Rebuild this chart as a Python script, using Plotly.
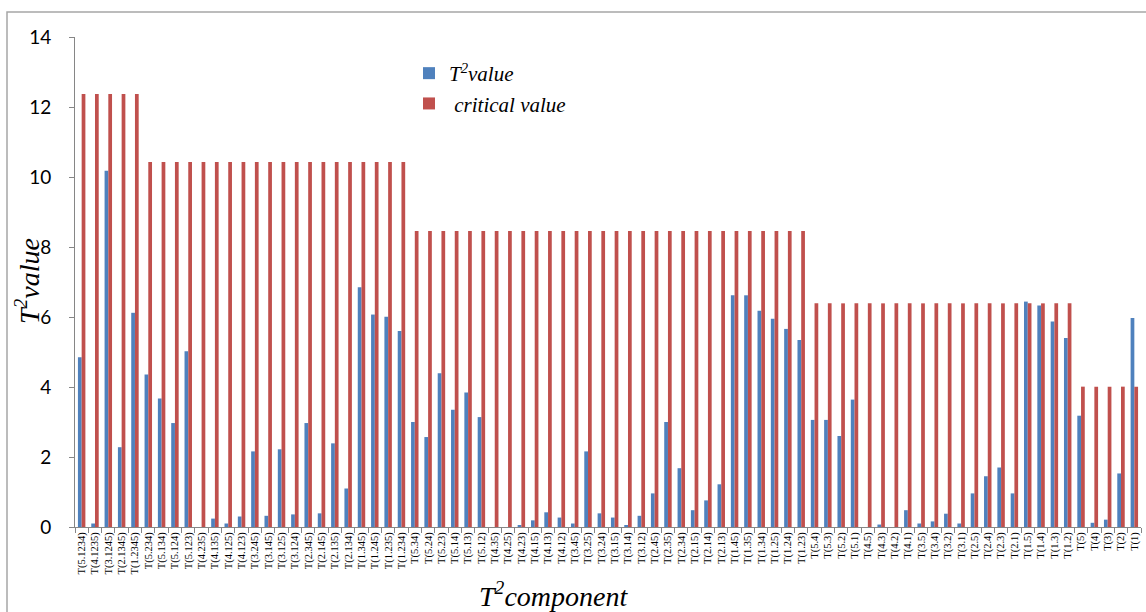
import plotly.graph_objects as go

categories = [
    "T(5.1234)", "T(4.1235)", "T(3.1245)", "T(2.1345)", "T(1.2345)",
    "T(5.234)", "T(5.134)", "T(5.124)", "T(5.123)", "T(4.235)", "T(4.135)", "T(4.125)", "T(4.123)",
    "T(3.245)", "T(3.145)", "T(3.125)", "T(3.124)", "T(2.345)", "T(2.145)", "T(2.135)", "T(2.134)",
    "T(1.345)", "T(1.245)", "T(1.235)", "T(1.234)",
    "T(5.34)", "T(5.24)", "T(5.23)", "T(5.14)", "T(5.13)", "T(5.12)",
    "T(4.35)", "T(4.25)", "T(4.23)", "T(4.15)", "T(4.13)", "T(4.12)",
    "T(3.45)", "T(3.25)", "T(3.24)", "T(3.15)", "T(3.14)", "T(3.12)",
    "T(2.45)", "T(2.35)", "T(2.34)", "T(2.15)", "T(2.14)", "T(2.13)",
    "T(1.45)", "T(1.35)", "T(1.34)", "T(1.25)", "T(1.24)", "T(1.23)",
    "T(5.4)", "T(5.3)", "T(5.2)", "T(5.1)", "T(4.5)", "T(4.3)", "T(4.2)", "T(4.1)",
    "T(3.5)", "T(3.4)", "T(3.2)", "T(3.1)", "T(2.5)", "T(2.4)", "T(2.3)", "T(2.1)",
    "T(1.5)", "T(1.4)", "T(1.3)", "T(1.2)",
    "T(5)", "T(4)", "T(3)", "T(2)", "T(1)",
]

t2_values = [
    4.85, 0.10, 10.18, 2.28, 6.12,
    4.36, 3.67, 2.97, 5.02, 0.00, 0.24, 0.10, 0.30,
    2.16, 0.32, 2.22, 0.36, 2.97, 0.39, 2.39, 1.10,
    6.85, 6.07, 6.01, 5.60,
    3.00, 2.57, 4.39, 3.35, 3.84, 3.14,
    0.00, 0.00, 0.04, 0.19, 0.42, 0.27,
    0.10, 2.16, 0.39, 0.27, 0.04, 0.32,
    0.96, 3.00, 1.68, 0.48, 0.76, 1.22,
    6.62, 6.62, 6.18, 5.95, 5.66, 5.34,
    3.06, 3.06, 2.60, 3.64, 0.00, 0.07, 0.00, 0.48,
    0.10, 0.16, 0.38, 0.10, 0.96, 1.45, 1.70, 0.96,
    6.44, 6.33, 5.87, 5.40,
    3.18, 0.12, 0.21, 1.53, 5.97,
]

critical_values = [
    12.37, 12.37, 12.37, 12.37, 12.37,
    10.43, 10.43, 10.43, 10.43, 10.43, 10.43, 10.43, 10.43,
    10.43, 10.43, 10.43, 10.43, 10.43, 10.43, 10.43, 10.43,
    10.43, 10.43, 10.43, 10.43,
    8.46, 8.46, 8.46, 8.46, 8.46, 8.46,
    8.46, 8.46, 8.46, 8.46, 8.46, 8.46,
    8.46, 8.46, 8.46, 8.46, 8.46, 8.46,
    8.46, 8.46, 8.46, 8.46, 8.46, 8.46,
    8.46, 8.46, 8.46, 8.46, 8.46, 8.46,
    6.39, 6.39, 6.39, 6.39, 6.39, 6.39, 6.39, 6.39,
    6.39, 6.39, 6.39, 6.39, 6.39, 6.39, 6.39, 6.39,
    6.39, 6.39, 6.39, 6.39,
    4.01, 4.01, 4.01, 4.01, 4.01,
]

y_ticks = [0, 2, 4, 6, 8, 10, 12, 14]

BLUE = "#4F81BD"
RED = "#C0504D"
AXIS = "#868686"
SERIF = "Liberation Serif, Times New Roman, serif"

fig = go.Figure()
fig.add_trace(go.Bar(x=categories, y=t2_values, name="<i>T<sup>2</sup>value</i>",
                     marker=dict(color=BLUE, line=dict(width=0))))
fig.add_trace(go.Bar(x=categories, y=critical_values, name="<i>\u00a0critical value</i>",
                     marker=dict(color=RED, line=dict(width=0))))

W, H = 1146, 612
L, R, T, B = 75, 5, 37, 85
pw, ph = W - L - R, H - T - B

def px(x):
    return (x - L) / pw

def py(y):
    return (H - B - y) / ph

fig.update_layout(
    width=W, height=H,
    margin=dict(l=L, r=R, t=T, b=B, pad=0, autoexpand=False),
    paper_bgcolor="white", plot_bgcolor="white",
    barmode="group", bargap=0.44, bargroupgap=0,
    showlegend=True,
    legend=dict(x=px(409), y=py(53), xanchor="left", yanchor="top",
                bgcolor="rgba(0,0,0,0)", font=dict(family=SERIF, size=21, color="black"),
                itemclick=False),
    xaxis=dict(type="category", tickangle=-90, showline=True, linecolor=AXIS, linewidth=1,
               ticks="outside", tickson="boundaries", ticklen=5, tickcolor=AXIS,
               tickfont=dict(family=SERIF, size=10.5, color="black"),
               showgrid=False, zeroline=False, automargin=False),
    yaxis=dict(range=[0, 14], tickvals=y_ticks, showline=True, linecolor=AXIS, linewidth=1,
               ticks="outside", ticklen=5, tickcolor=AXIS, ticklabelstandoff=14,
               tickfont=dict(family="Lato, Carlito, sans-serif", size=19, color="black"),
               showgrid=False, zeroline=False, automargin=False),
    annotations=[
        dict(text="<i>T<sup>2</sup>component</i>", xref="paper", yref="paper",
             x=px(553), y=py(594), xanchor="center", yanchor="middle", showarrow=False,
             font=dict(family=SERIF, size=28, color="black")),
        dict(text="<i>T<sup>2</sup>value</i>", xref="paper", yref="paper",
             x=px(27), y=py(281), xanchor="center", yanchor="middle", showarrow=False,
             textangle=-90, font=dict(family=SERIF, size=28, color="black")),
    ],
    shapes=[
        dict(type="rect", xref="paper", yref="paper", x0=px(7), y0=py(640), x1=px(1160), y1=py(12),
             line=dict(color="#A6A6A6", width=1.5), fillcolor="rgba(0,0,0,0)", layer="below"),
    ],
)

fig.write_html("out.html", config={"displayModeBar": False},
               post_script="document.body.style.margin='0';document.body.style.overflow='hidden';")
